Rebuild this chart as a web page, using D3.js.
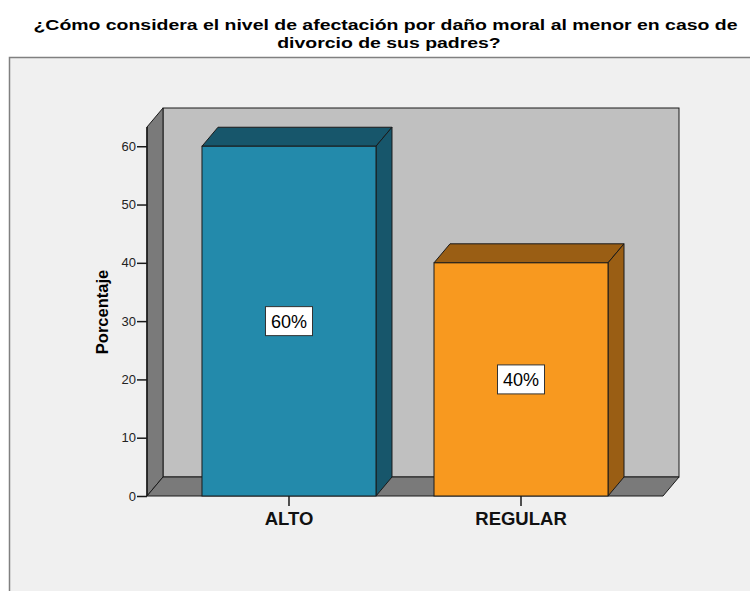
<!DOCTYPE html>
<html>
<head>
    <script type="text/javascript" src="https://cdn.jsdelivr.net/npm/d3@7"></script>
    <style>
    body {
        padding: 0;
        margin: 0;
        background: #fff;
    }
    svg { display: block; }
    text { font-family: "Liberation Sans", Arial, sans-serif; }
  </style>
</head>
<body>
    <div id="viz"></div>
    <script type="text/javascript">

    // data
    var categories = ['ALTO', 'REGULAR'];
    var values = [60, 40];
    var barLabels = ['60%', '40%'];
    var yTicks = [0, 10, 20, 30, 40, 50, 60];
    var titleLines = ['¿Cómo considera el nivel de afectación por daño moral al menor en caso de',
                      'divorcio de sus padres?'];
    var yTitle = 'Porcentaje';

    var frontColors = ['#238aab', '#f8991f'];
    var darkColors = ['#17566b', '#9a5e14'];

    var W = 750, H = 591;
    // depth offset of the 3D effect
    var dx = 16, dy = 19;

    var svg = d3.select('#viz')
      .append('svg')
      .attr('width', W)
      .attr('height', H);

    svg.append('rect').attr('width', W).attr('height', H).attr('fill', '#fff');

    // outer chart frame
    svg.append('rect')
      .attr('x', 9.5).attr('y', 57.5)
      .attr('width', 800).attr('height', 600)
      .attr('fill', '#f0f0f0')
      .attr('stroke', '#808080')
      .attr('stroke-width', 1.5);

    // title, squeezed to the width of the original
    var t1 = svg.append('text')
      .attr('x', 385.5).attr('y', 30)
      .attr('text-anchor', 'middle')
      .attr('font-size', 15.5)
      .attr('font-weight', 'bold')
      .text(titleLines[0]);
    var t2 = svg.append('text')
      .attr('x', 389).attr('y', 47.5)
      .attr('text-anchor', 'middle')
      .attr('font-size', 15.5)
      .attr('font-weight', 'bold')
      .text(titleLines[1]);
    var squeeze = 704 / t1.node().getComputedTextLength();
    t1.attr('textLength', 704).attr('lengthAdjust', 'spacingAndGlyphs');
    t2.attr('textLength', t2.node().getComputedTextLength() * squeeze).attr('lengthAdjust', 'spacingAndGlyphs');

    var x0 = 147, x1 = 663;
    var y = d3.scaleLinear().domain([0, 63.3]).range([496, 127]);
    var x = d3.scaleBand()
      .domain(categories)
      .range([x0, x1])
      .paddingInner(0.25)
      .paddingOuter(0.237);

    function poly(pts) { return 'M' + pts.map(function(p) { return p.join(','); }).join('L') + 'Z'; }

    var yTop = y.range()[1], yBot = y(0);

    // back wall
    svg.append('rect')
      .attr('x', x0 + dx).attr('y', yTop - dy)
      .attr('width', x1 - x0).attr('height', yBot - yTop)
      .attr('fill', '#c0c0c0')
      .attr('stroke', '#1a1a1a');

    // left wall
    svg.append('path')
      .attr('d', poly([[x0, yBot], [x0, yTop], [x0 + dx, yTop - dy], [x0 + dx, yBot - dy]]))
      .attr('fill', '#7a7a7a')
      .attr('stroke', '#1a1a1a');

    // floor
    svg.append('path')
      .attr('d', poly([[x0, yBot], [x1, yBot], [x1 + dx, yBot - dy], [x0 + dx, yBot - dy]]))
      .attr('fill', '#7a7a7a')
      .attr('stroke', '#1a1a1a');

    // y axis
    var yAxis = svg.append('g')
      .attr('transform', 'translate(' + x0 + ',0)')
      .call(d3.axisLeft(y).tickValues(yTicks).tickSize(10).tickPadding(1).tickFormat(d3.format('d')));
    yAxis.select('.domain').remove();
    yAxis.selectAll('.tick line').attr('stroke', '#1a1a1a').attr('stroke-width', 1.5);
    yAxis.selectAll('.tick text')
      .attr('font-size', 13)
      .attr('fill', '#222')
      .style('font-family', '"Liberation Sans", Arial, sans-serif');
    svg.append('line')
      .attr('x1', x0).attr('x2', x0)
      .attr('y1', yTop).attr('y2', yBot)
      .attr('stroke', '#1a1a1a').attr('stroke-width', 1.5);

    svg.append('text')
      .attr('transform', 'translate(108,312) rotate(-90)')
      .attr('text-anchor', 'middle')
      .attr('font-size', 16.5)
      .attr('font-weight', 'bold')
      .text(yTitle);

    // bars
    var bars = svg.selectAll('g.bar')
      .data(categories)
      .enter().append('g')
      .attr('class', 'bar');

    bars.each(function(c, i) {
      var g = d3.select(this);
      var bx = x(c), bw = x.bandwidth(), by = y(values[i]);
      // top face
      g.append('path')
        .attr('d', poly([[bx, by], [bx + dx, by - dy], [bx + bw + dx, by - dy], [bx + bw, by]]))
        .attr('fill', darkColors[i])
        .attr('stroke', '#1a1a1a');
      // side face
      g.append('path')
        .attr('d', poly([[bx + bw, by], [bx + bw + dx, by - dy], [bx + bw + dx, yBot - dy], [bx + bw, yBot]]))
        .attr('fill', darkColors[i])
        .attr('stroke', '#1a1a1a');
      // front face
      g.append('rect')
        .attr('x', bx).attr('y', by)
        .attr('width', bw).attr('height', yBot - by)
        .attr('fill', frontColors[i])
        .attr('stroke', '#1a1a1a');

      // value label in a box
      var cx = bx + bw / 2, cy = y(values[i] / 2);
      g.append('rect')
        .attr('x', cx - 23.5).attr('y', cy - 14.5)
        .attr('width', 47).attr('height', 29)
        .attr('fill', '#fff')
        .attr('stroke', '#333')
        .attr('stroke-width', 1);
      g.append('text')
        .attr('x', cx).attr('y', cy + 6.5)
        .attr('text-anchor', 'middle')
        .attr('font-size', 18)
        .attr('fill', '#000')
        .text(barLabels[i]);
    });

    // x axis ticks and labels
    var xAxis = svg.append('g')
      .attr('transform', 'translate(0,' + yBot + ')')
      .call(d3.axisBottom(x).tickSize(10).tickPadding(6));
    xAxis.select('.domain').remove();
    xAxis.selectAll('.tick line').attr('stroke', '#1a1a1a').attr('stroke-width', 1.5);
    xAxis.selectAll('.tick text')
      .attr('font-size', 18.5)
      .attr('font-weight', 'bold')
      .attr('fill', '#111')
      .style('font-family', '"Liberation Sans", Arial, sans-serif');

    </script>
</body>
</html>
